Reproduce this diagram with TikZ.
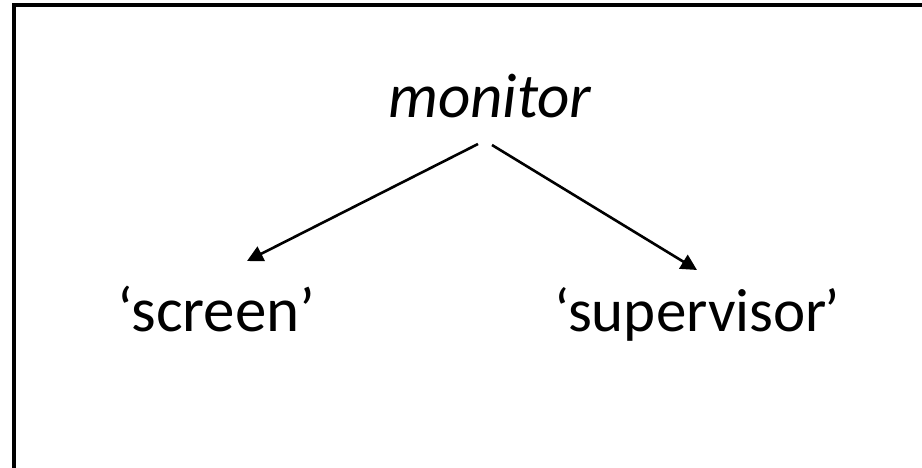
\documentclass[tikz,border=0pt]{standalone}
\usepackage{fontspec}
\setmainfont{Carlito}
\usetikzlibrary{arrows.meta}
\begin{document}
\begin{tikzpicture}[x=1pt,y=-1pt,
  lbl/.style={inner sep=0pt,font=\fontsize{63}{72}\selectfont},
  arr/.style={line width=2.6pt,-{Triangle[length=16pt,width=16pt]}}]
\useasboundingbox (0,0) rectangle (922,467);
\begin{scope}
\clip (0,0) rectangle (922,467);
\draw[line width=4pt] (14,5) rectangle (940,490);
\end{scope}
\node[lbl,anchor=base] (monitor) at (490,117) {\itshape monitor};
\node[lbl,anchor=base west] (screen) at (117,331) {‘screen’};
\node[lbl,anchor=base west,font=\fontsize{61}{72}\selectfont] (supervisor) at (554,331) {‘supervisor\kern-3pt’};
\coordinate (m1) at (478,144);
\coordinate (m2) at (492,145);
\coordinate (s1) at (247,261);
\coordinate (v1) at (697,270);
\draw[arr] (m1) -- (s1);
\draw[arr] (m2) -- (v1);
\end{tikzpicture}
\end{document}
